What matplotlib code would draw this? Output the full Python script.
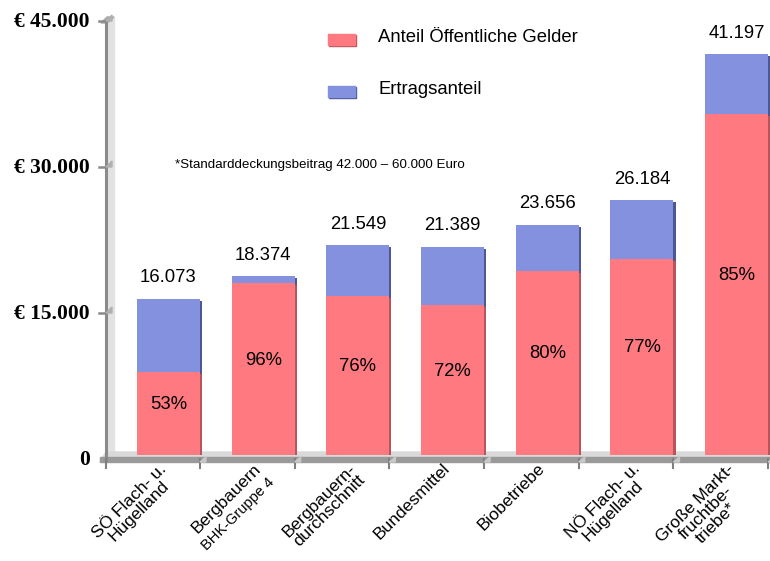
import matplotlib
matplotlib.use("Agg")
import matplotlib.pyplot as plt
from matplotlib.patches import Rectangle, Polygon

# ---------------- data ----------------
categories = ["SÖ Flach- u.\nHügelland", "Bergbauern", "Bergbauern-\ndurchschnitt",
              "Bundesmittel", "Biobetriebe", "NÖ Flach- u.\nHügelland",
              "Große Markt-\nfruchtbe-\ntriebe*"]
sublabels = ["", "BHK-Gruppe 4", "", "", "", "", ""]
totals = [16073, 18374, 21549, 21389, 23656, 26184, 41197]
total_labels = ["16.073", "18.374", "21.549", "21.389", "23.656", "26.184", "41.197"]
public_pct = [53, 96, 76, 72, 80, 77, 85]
yticks = [0, 15000, 30000, 45000]
ytick_labels = ["0", "€ 15.000", "€ 30.000", "€ 45.000"]
legend_labels = ["Anteil Öffentliche Gelder", "Ertragsanteil"]
footnote = "*Standarddeckungsbeitrag 42.000 – 60.000 Euro"

public = [t * p / 100 for t, p in zip(totals, public_pct)]
ertrag = [t - p for t, p in zip(totals, public)]

# ---------------- style ----------------
RED = "#FF7A80"
RED_SH = "#B8555C"
BLUE = "#8391DE"
BLUE_SH = "#4C5794"
SANS = ["Liberation Sans", "DejaVu Sans"]
SERIF = ["Liberation Serif", "DejaVu Serif"]

W, H = 770, 561
fig = plt.figure(figsize=(W / 100, H / 100), dpi=100)

# decoration layer in pixel coordinates
bg = fig.add_axes([0, 0, 1, 1])
bg.set_xlim(0, W)
bg.set_ylim(H, 0)
bg.axis("off")

# main data axes
AX_L, AX_R, AX_B, AX_T = 107, 770, 455, 17
ax = fig.add_axes([AX_L / W, 1 - AX_B / H, (AX_R - AX_L) / W, (AX_B - AX_T) / H])
ax.patch.set_alpha(0)
ax.set_ylim(0, 45000)
ax.set_xlim(-0.649, 6.352)
for s in ax.spines.values():
    s.set_visible(False)
ax.set_xticks([])
ax.set_yticks([])

# 3D-like wall and floor
bg.add_patch(Rectangle((107, 17), 7, 438, color="#E2E2E2", zorder=1))
bg.add_patch(Polygon([(101, 23), (107, 17), (114, 17), (107, 23)], closed=True,
                     color="#A8A8A8", zorder=1))
bg.add_patch(Polygon([(100, 462), (106, 452), (770, 452), (770, 462)], closed=True,
                     color="#D9D9D9", zorder=1))
bg.add_patch(Rectangle((100, 457), 670, 5, color="#9A9A9A", zorder=2))
bg.plot([106, 106], [22, 462], color="#8A8A8A", lw=2.2, zorder=3, solid_capstyle="butt")

# bars
n = len(categories)
xs = list(range(n))
bw = 0.665
dx = 0.022
dy = 220
ax.bar([x + dx for x in xs], public, width=bw, bottom=[-dy] * n, color=RED_SH, zorder=2)
ax.bar(xs, public, width=bw, color=RED, zorder=3)
ax.bar([x + dx for x in xs], ertrag, width=bw, bottom=[p - dy for p in public],
       color=BLUE_SH, zorder=2)
ax.bar(xs, ertrag, width=bw, bottom=public, color=BLUE, zorder=3)

# x ticks at right bar edges
for x in xs:
    bx, _ = ax.transData.transform((x + bw / 2, 0))
    bg.plot([bx, bx], [459, 468], color="#808080", lw=1.5, zorder=3)
    bg.add_patch(Polygon([(bx, 462), (bx + 6, 457), (bx + 6, 462)], closed=True,
                         color="#C8C8C8", zorder=3))
bg.plot([106, 106], [459, 468], color="#808080", lw=1.5, zorder=3)

# y tick labels and marks
for v, lab in zip(yticks, ytick_labels):
    ax.annotate(lab, xy=(0, v), xycoords=("axes fraction", "data"),
                xytext=(-17, -5), textcoords="offset pixels", ha="right", va="center",
                fontsize=15.5, fontweight="bold", family=SERIF, annotation_clip=False)
    _, py = ax.transData.transform((0, v))
    ypx = H - py + 4
    if v > 0:
        bg.plot([99, 106], [ypx, ypx], color="#8A8A8A", lw=1.8, zorder=3)
        bg.add_patch(Polygon([(106, ypx), (112, ypx - 6), (112, ypx)], closed=True,
                             color="#B0B0B0", zorder=3))

# value labels
for x, t, p, lab, pct in zip(xs, totals, public, total_labels, public_pct):
    ax.annotate(lab, xy=(x, t), xytext=(0, 21), textcoords="offset pixels",
                ha="center", va="center", fontsize=13.3, family=SANS)
    ax.annotate(f"{pct}%", xy=(x, p / 2), xytext=(0, 9), textcoords="offset pixels",
                ha="center", va="center", fontsize=13.3, family=SANS, zorder=5)

# category labels
for x, lab, sub in zip(xs, categories, sublabels):
    ax.annotate(lab, xy=(x, 0), xytext=(-10, -6), textcoords="offset pixels",
                ha="right", va="top", rotation=45, rotation_mode="anchor",
                multialignment="center", linespacing=0.95, fontsize=12.5, family=SANS,
                annotation_clip=False)
    if sub:
        ax.annotate(sub, xy=(x, 0), xytext=(4, -20), textcoords="offset pixels",
                    ha="right", va="top", rotation=45, rotation_mode="anchor",
                    fontsize=10.5, family=SANS, annotation_clip=False)

# legend (manual)
for (y0, col, sh), lab in zip([(34, RED, RED_SH), (86, BLUE, BLUE_SH)], legend_labels):
    bg.add_patch(Rectangle((329, y0 + 1), 27, 11, color=sh, zorder=4))
    bg.add_patch(Rectangle((328, y0), 27, 11, color=col, zorder=5))
    bg.text(378, y0 + 3, lab, ha="left", va="center", fontsize=13.3, family=SANS)

# footnote
bg.text(175, 165, footnote, ha="left", va="center", fontsize=9.6, family=SANS)

fig.savefig("out.png", dpi=100)
